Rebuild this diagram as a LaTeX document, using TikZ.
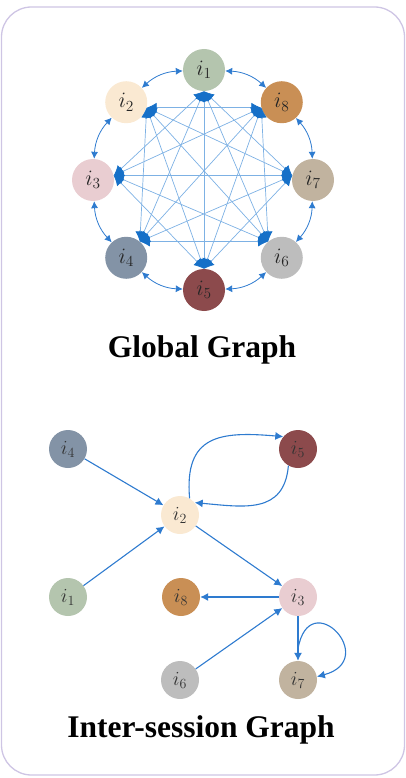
\RequirePackage{fix-cm}
\documentclass[tikz,border=0pt]{standalone}
\usepackage{fontspec}
\setmainfont{Liberation Serif}
\usetikzlibrary{arrows.meta}
\definecolor{ci1}{HTML}{B4C5AE}
\definecolor{ci2}{HTML}{FAE9D2}
\definecolor{ci3}{HTML}{E9CDD1}
\definecolor{ci4}{HTML}{8393A6}
\definecolor{ci5}{HTML}{8C4A4C}
\definecolor{ci6}{HTML}{BDBDBD}
\definecolor{ci7}{HTML}{C1B39F}
\definecolor{ci8}{HTML}{C98F55}
\definecolor{framecol}{HTML}{CEC5E4}
\definecolor{edgeblue}{HTML}{2E7BCF}
\definecolor{chordblue}{HTML}{7DB1E4}
\definecolor{tipblue}{HTML}{1670C8}
\tikzset{
  gnode/.style={circle, minimum size=42pt, inner sep=0pt, font=\fontsize{22}{22}\selectfont, text=black!85},
  snode/.style={circle, minimum size=38pt, inner sep=0pt, font=\fontsize{20}{20}\selectfont, text=black!80},
  ring/.style={{Latex[length=7pt,width=7pt]}-{Latex[length=7pt,width=7pt]}, draw=edgeblue, line width=0.8pt},
  chord/.style={{Latex[length=10pt,width=10pt,color=tipblue]}-{Latex[length=10pt,width=10pt,color=tipblue]}, draw=chordblue, line width=0.7pt},
  flow/.style={-{Latex[length=8pt,width=8pt]}, draw=edgeblue, line width=1.1pt},
  title/.style={anchor=base, font=\fontsize{31.5}{32}\selectfont\bfseries}
}
\begin{document}
\begin{tikzpicture}[x=1pt, y=1pt]
      \useasboundingbox (0,0) rectangle (406,-778);
      \draw[framecol, line width=1.3pt, rounded corners=30pt] (1.5,-7) rectangle (404.5,-775);
      % global graph
      \draw[shift={(204,-180)}]
        (90:110) node[gnode, fill=ci1] (g1){$i_1$}
        (135:110) node[gnode, fill=ci2] (g2){$i_2$}
        (180:111) node[gnode, fill=ci3] (g3){$i_3$}
        (225:110) node[gnode, fill=ci4] (g4){$i_4$}
        (270:110) node[gnode, fill=ci5] (g5){$i_5$}
        (315:110) node[gnode, fill=ci6] (g6){$i_6$}
        (0:109) node[gnode, fill=ci7] (g7){$i_7$}
        (45:110) node[gnode, fill=ci8] (g8){$i_8$};
      \coordinate (f1) at (g1.south);
      \coordinate (f2) at (g2.-15);
      \coordinate (f3) at (g3.12);
      \coordinate (f4) at (g4.50);
      \coordinate (f5) at (g5.north);
      \coordinate (f6) at (g6.130);
      \coordinate (f7) at (g7.168);
      \coordinate (f8) at (g8.195);
      \begin{scope}[ring]
        \draw (g1) to[bend left=20] (g8);
        \draw (g8) to[bend left=20] (g7);
        \draw (g7) to[bend left=20] (g6);
        \draw (g6) to[bend left=20] (g5);
        \draw (g5) to[bend left=20] (g4);
        \draw (g4) to[bend left=20] (g3);
        \draw (g3) to[bend left=20] (g2);
        \draw (g2) to[bend left=20] (g1);
      \end{scope}
      \begin{scope}[chord]
        \draw (f1) to (f3);
        \draw (f1) to (f4);
        \draw (f1) to (f5);
        \draw (f1) to (f6);
        \draw (f1) to (f7);
        \draw (f2) to (f4);
        \draw (f2) to (f5);
        \draw (f2) to (f6);
        \draw (f2) to (f7);
        \draw (f2) to (f8);
        \draw (f3) to (f5);
        \draw (f3) to (f6);
        \draw (f3) to (f7);
        \draw (f3) to (f8);
        \draw (f4) to (f6);
        \draw (f4) to (f7);
        \draw (f4) to (f8);
        \draw (f5) to (f7);
        \draw (f5) to (f8);
        \draw (f6) to (f8);
      \end{scope}
      \node[title] (gtitle) at (202,-357) {Global Graph};
      % inter-session graph
      \draw
        (68,-449) node[snode, fill=ci4] (s4){$i_4$}
        (298,-449) node[snode, fill=ci5] (s5){$i_5$}
        (180,-515) node[snode, fill=ci2] (s2){$i_2$}
        (68,-597) node[snode, fill=ci1] (s1){$i_1$}
        (181,-597) node[snode, fill=ci8] (s8){$i_8$}
        (298,-597) node[snode, fill=ci3] (s3){$i_3$}
        (180,-680) node[snode, fill=ci6] (s6){$i_6$}
        (298,-680) node[snode, fill=ci7] (s7){$i_7$};
      \path (s7.north) ++(0,12) coordinate (s7loop);
      \begin{scope}[flow]
        \draw (s4) to (s2);
        \draw (s1) to (s2);
        \draw (s2) to (s3);
        \draw (s3) to (s8);
        \draw (s6) to (s3);
        \draw (s3) to (s7);
        \draw (s2.60) to[out=95, in=175, looseness=1.45] (s5.140);
        \draw (s5.240) to[out=-95, in=-5, looseness=1.25] (s2.40);
        \draw (s7loop) to[out=80, in=15, looseness=5] (s7.10);
      \end{scope}
      \node[title] (stitle) at (201,-737) {Inter-session Graph};
    \end{tikzpicture}
\end{document}
